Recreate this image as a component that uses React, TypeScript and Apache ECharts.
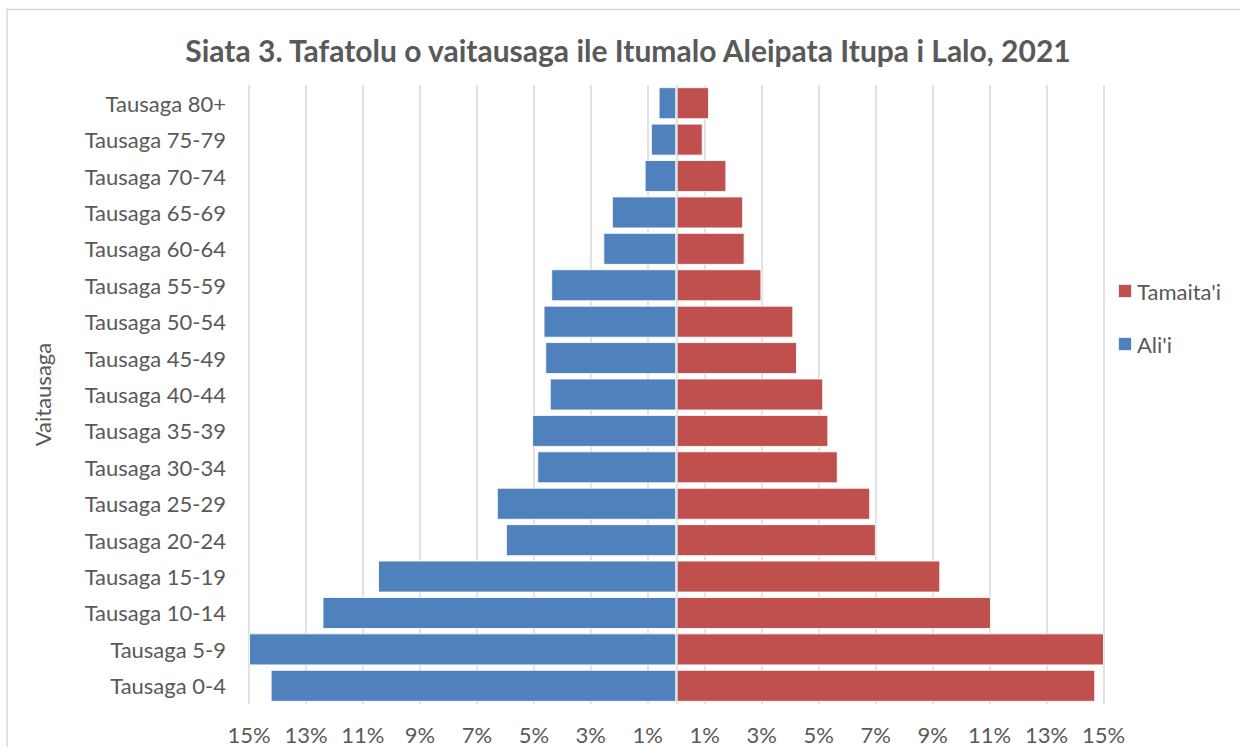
import React, { useEffect, useRef } from "react";
import * as echarts from "echarts";

const ageGroups = [
  "Tausaga 0-4", "Tausaga 5-9", "Tausaga 10-14", "Tausaga 15-19", "Tausaga 20-24",
  "Tausaga 25-29", "Tausaga 30-34", "Tausaga 35-39", "Tausaga 40-44", "Tausaga 45-49",
  "Tausaga 50-54", "Tausaga 55-59", "Tausaga 60-64", "Tausaga 65-69", "Tausaga 70-74",
  "Tausaga 75-79", "Tausaga 80+",
];
// Ali'i (male), percent of population
const maleValues = [14.24, 15.0, 12.42, 10.47, 5.98, 6.3, 4.88, 5.06, 4.44, 4.6, 4.66, 4.39, 2.56, 2.26, 1.11, 0.89, 0.62];
// Tamaita'i (female), percent of population
const femaleValues = [14.71, 15.07, 11.05, 9.27, 7.01, 6.81, 5.67, 5.34, 5.16, 4.24, 4.11, 2.99, 2.4, 2.35, 1.76, 0.93, 1.15];
const tickValues = [-15, -13, -11, -9, -7, -5, -3, -1, 1, 3, 5, 7, 9, 11, 13, 15];

const TITLE = "Siata 3. Tafatolu o vaitausaga ile Itumalo Aleipata Itupa i Lalo, 2021";
const FONT = "Lato";
const TXT = "#595959";
const GRID = "#d9d9d9";

export default function App() {
  const ref = useRef<HTMLDivElement>(null);
  useEffect(() => {
    if (!ref.current) return;
    const chart = echarts.init(ref.current, null, { renderer: "svg" });
    chart.setOption({
      animation: false,
      backgroundColor: "#ffffff",
      textStyle: { fontFamily: FONT },
      graphic: [
        {
          type: "rect",
          shape: { x: 7, y: 9.5, width: 1250, height: 760 },
          style: { fill: "none", stroke: GRID, lineWidth: 1.5 },
          silent: true,
        },
        {
          type: "text",
          x: 628,
          y: 50,
          style: {
            text: TITLE,
            textAlign: "center",
            textVerticalAlign: "middle",
            fontFamily: FONT,
            fontWeight: "bold",
            fontSize: 30,
            fill: TXT,
          },
        },
      ],
      legend: {
        orient: "vertical",
        left: 1117,
        top: 280,
        padding: 0,
        itemWidth: 14,
        itemHeight: 14,
        itemGap: 31,
        icon: "rect",
        data: ["Tamaita'i", "Ali'i"],
        textStyle: { fontFamily: FONT, fontSize: 22, color: TXT },
      },
      grid: { left: 249, right: 136.5, top: 85, bottom: 43, containLabel: false },
      xAxis: [
        {
          type: "value",
          min: -15,
          max: 15,
          show: false,
          splitLine: { show: false },
        },
        {
          type: "category",
          position: "bottom",
          boundaryGap: false,
          data: tickValues.map(String),
          axisLine: { show: false },
          axisTick: { show: false },
          axisLabel: {
            interval: 0,
            margin: 19,
            fontFamily: FONT,
            fontSize: 22,
            color: TXT,
            formatter: (v: string) => Math.abs(Number(v)) + "%",
          },
          splitLine: { show: true, interval: 0, lineStyle: { color: GRID, width: 1.5 } },
        },
      ],
      yAxis: {
        type: "category",
        data: ageGroups,
        axisLine: { show: false },
        axisTick: { show: false },
        axisLabel: { margin: 23, fontFamily: FONT, fontSize: 22, color: TXT },
        name: "Vaitausaga",
        nameLocation: "middle",
        nameGap: 196,
        nameTextStyle: { fontFamily: FONT, fontSize: 22, color: TXT },
      },
      series: [
        {
          name: "Ali'i",
          type: "bar",
          xAxisIndex: 0,
          data: maleValues.map((v) => -v),
          barGap: "-100%",
          barCategoryGap: "12%",
          itemStyle: { color: "#4F81BD", borderColor: "rgba(255,255,255,0.85)", borderWidth: 1 },
        },
        {
          name: "Tamaita'i",
          type: "bar",
          xAxisIndex: 0,
          data: femaleValues,
          barGap: "-100%",
          barCategoryGap: "12%",
          itemStyle: { color: "#C0504D", borderColor: "rgba(255,255,255,0.85)", borderWidth: 1 },
          markLine: {
            silent: true,
            symbol: "none",
            label: { show: false },
            lineStyle: { color: GRID, type: "solid", width: 1.5 },
            data: [{ xAxis: 0 }],
          },
        },
      ],
    });
    return () => chart.dispose();
  }, []);
  return (
    <div
      ref={ref}
      style={{ position: "absolute", left: 0, top: 0, width: 1240, height: 747, background: "#fff" }}
    />
  );
}
